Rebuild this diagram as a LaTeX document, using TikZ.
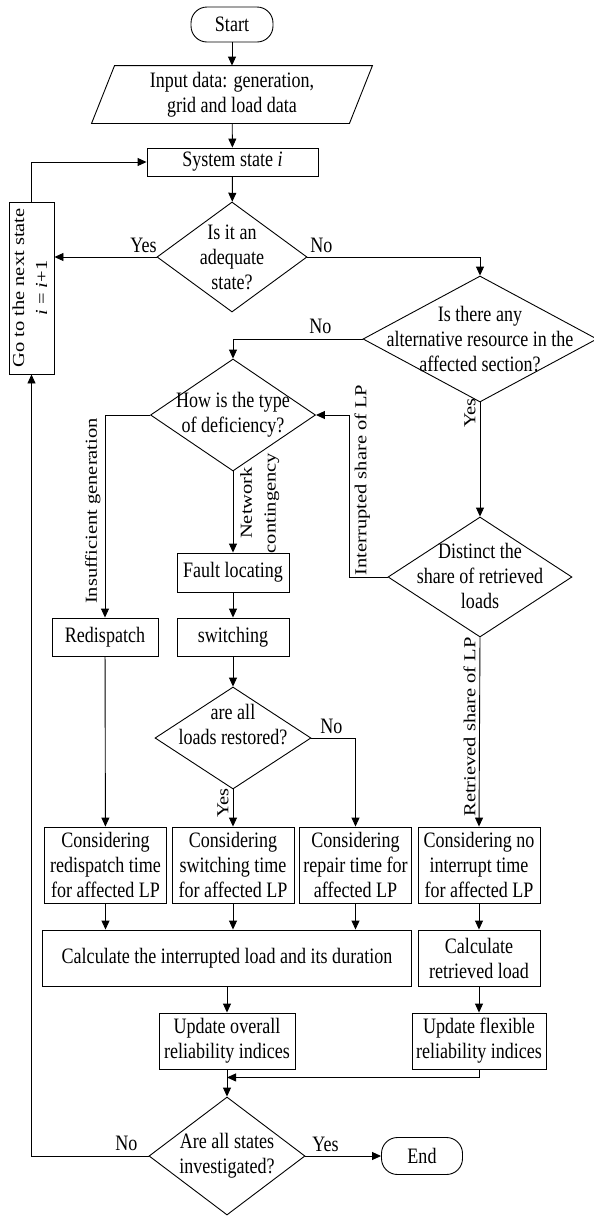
\documentclass[tikz,border=0pt]{standalone}
\usepackage{fontspec}
\usepackage{graphicx}
\setmainfont{Liberation Serif}[FakeStretch=0.82]
\newfontfamily\rotfont{Liberation Serif}
\usetikzlibrary{shapes.geometric,arrows.meta}
\newcommand\mfs{\fontsize{22}{25}\selectfont}
\newcommand\rfs{\rotfont\fontsize{20.5}{25}\selectfont}
\newcommand\rl[1]{\scalebox{1}[0.82]{\rfs #1}}
\begin{document}
\begin{tikzpicture}[x=1pt,y=-1pt, line width=0.9pt,
  box/.style={draw, rectangle, inner sep=0pt, align=center, font=\mfs},
  term/.style={box, rounded corners=16pt},
  dia/.style={draw, diamond, inner sep=0pt},
  dtxt/.style={align=center, font=\mfs, inner sep=0pt},
  lab/.style={font=\mfs, inner sep=0pt},
  rlab/.style={rotate=90, inner sep=4pt},
  arr/.style={-{Triangle[length=9pt,width=8pt]}}]
\useasboundingbox (0,0) rectangle (594,1216);
% nodes
\node[term, minimum width=82pt, minimum height=35pt] (start) at (232,24.5) {Start};
\node[box, draw=none, minimum width=257pt, minimum height=57pt] (inp) at (232,94.5) {Input data: generation,\\grid and load data};
\draw ([xshift=11.5pt]inp.north west) -- ([xshift=11.5pt]inp.north east) -- ([xshift=-11.5pt]inp.south east) -- ([xshift=-11.5pt]inp.south west) -- cycle;
\node[box, minimum width=171pt, minimum height=28pt] (sys) at (232.5,162) {System state \textit{i}};
\node[dia, minimum width=150pt, minimum height=110pt] (d1) at (232,257) {};
\node[dtxt] (d1t) at (d1) {Is it an\\adequate\\state?};
\node[box, minimum width=45pt, minimum height=172pt] (goto) at (31.5,288) {\rotatebox{90}{\scalebox{1}[0.82]{\rfs\begin{tabular}{@{}c@{}}Go to the next state\\[3pt]\textit{i} = \textit{i}+1\end{tabular}}}};
\node[dia, minimum width=234pt, minimum height=126pt] (d2) at (480,339) {};
\node[dtxt] (d2t) at (d2) {Is there any\\alternative resource in the\\affected section?};
\node[dia, minimum width=165pt, minimum height=112pt] (d3) at (233,415) {};
\node[dtxt] (d3t) at (d3) {How is the type\\of deficiency?};
\node[dia, minimum width=184pt, minimum height=120pt] (d4) at (480,577) {};
\node[dtxt] (d4t) at (480,576) {Distinct the\\share of retrieved\\loads};
\node[box, minimum width=112pt, minimum height=39pt] (fault) at (233,572.5) {Fault locating};
\node[box, minimum width=112pt, minimum height=38pt] (sw) at (233,637) {switching};
\node[box, minimum width=106pt, minimum height=38pt] (red) at (105,637) {Redispatch};
\node[dia, minimum width=156pt, minimum height=102pt] (d5) at (233,738) {};
\node[dtxt] (d5t) at (233,725) {are all\\loads restored?};
\node[box, minimum width=122pt, minimum height=76pt] (b1) at (105.5,865) {Considering\\redispatch time\\for affected LP};
\node[box, minimum width=122pt, minimum height=76pt] (b2) at (233,865) {Considering\\switching time\\for affected LP};
\node[box, minimum width=112pt, minimum height=76pt] (b3) at (355.5,865) {Considering\\repair time for\\affected LP};
\node[box, minimum width=122pt, minimum height=76pt] (b4) at (479,865) {Considering no\\interrupt time\\for affected LP};
\node[box, minimum width=369pt, minimum height=56pt] (calc) at (227,958) {Calculate the interrupted load and its duration};
\node[box, minimum width=122pt, minimum height=56pt] (cr) at (479,958) {Calculate\\retrieved load};
\node[box, minimum width=136pt, minimum height=56pt] (uo) at (227,1041) {Update overall\\reliability indices};
\node[box, minimum width=134pt, minimum height=56pt] (uf) at (479,1041) {Update flexible\\reliability indices};
\node[dia, minimum width=156pt, minimum height=118pt] (d6) at (227,1156) {};
\node[dtxt] (d6t) at (d6) {Are all states\\investigated?};
\node[term, minimum width=81pt, minimum height=37pt] (end) at (422,1156) {End};
% connectors
\draw[arr] (start) -- (inp);
\draw[arr] (inp) -- (sys);
\draw[arr] (sys) -- (d1);
\draw[arr] (d1.west) -- (d1.west -| goto.east);
\draw[arr] (d1.east) -| (d2.north);
\draw[arr] (d2.west) -| (d3.north);
\draw[arr] (d3.west) -| (red.north);
\draw[arr] (d3.south) -- (fault.north);
\draw[arr] (fault) -- (sw);
\draw[arr] (sw) -- (d5.north);
\draw[arr] (d5.south) -- (b2.north);
\draw[arr] (d5.east) -| (b3.north);
\draw[arr] (red) -- (b1);
\draw[arr] (d2.south) -- (d4.north);
\draw[arr] (d4.west) -- ++(-38,0) |- (d3.east);
\draw[arr] (d4.south) -- (b4.north);
\draw[arr] (b1.south) -- (b1.south |- calc.north);
\draw[arr] (b2.south) -- (b2.south |- calc.north);
\draw[arr] (b3.south) -- (b3.south |- calc.north);
\draw[arr] (b4) -- (cr);
\draw[arr] (calc) -- (uo);
\draw[arr] (cr) -- (uf);
\draw[arr] (uo.south) -- (d6.north);
\draw[arr] (uf.south) |- ([yshift=-8pt]uo.south);
\draw[arr] (d6.east) -- (end.west);
\draw[arr] (d6.west) -| (goto.south);
\draw[arr] (goto.north) |- (sys.west);
% labels
\node[lab, anchor=base east] (l1) at (157,252) {Yes};
\node[lab, anchor=base west] (l2) at (310,252) {No};
\node[lab, anchor=base west] (l3) at (309,333) {No};
\node[rlab, anchor=south] (l4) at (480,413) {\rl{Yes}};
\node[rlab, anchor=south] (l5) at (105,511) {\rl{Insufficient generation}};
\node[rlab, anchor=north] (l6) at (233,503) {\rl{\begin{tabular}{@{}c@{}}Network\\[4pt]contingency\end{tabular}}};
\node[rlab, anchor=north] (l7) at (350,480) {\rl{Interrupted share of LP}};
\node[rlab, anchor=south] (l8) at (480,727) {\rl{Retrieved share of LP}};
\node[rlab, anchor=south] (l9) at (233,803) {\rl{Yes}};
\node[lab, anchor=base west] (l10) at (320,733) {No};
\node[lab, anchor=base west] (l11) at (115,1150) {No};
\node[lab, anchor=base west] (l12) at (312,1151) {Yes};
\end{tikzpicture}
\end{document}
